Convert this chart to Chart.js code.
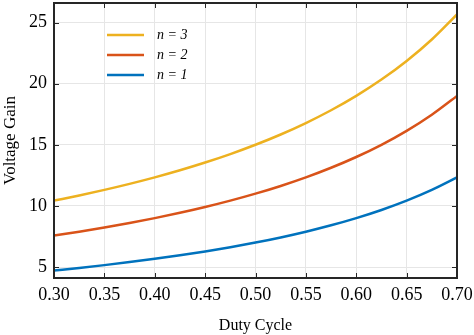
<!DOCTYPE html>
<html>
<head>
<meta charset="utf-8">
<script src="https://cdn.jsdelivr.net/npm/chart.js@4/dist/chart.umd.min.js"></script>
<style>
  html, body { margin: 0; padding: 0; background: #fff; }
  #wrap { width: 474px; height: 335px; }
</style>
</head>
<body>
<div id="wrap"><canvas id="c" width="474" height="335"></canvas></div>
<script>
// Duty cycle samples
const dutyCycle = [0.300, 0.325, 0.350, 0.375, 0.400, 0.425, 0.450, 0.475, 0.500,
                   0.525, 0.550, 0.575, 0.600, 0.625, 0.650, 0.675, 0.700];

// Voltage gain for each turns ratio
const gainN1 = [4.714, 4.926, 5.154, 5.400, 5.667, 5.957, 6.273, 6.619, 7.000,
                7.421, 7.889, 8.412, 9.000, 9.667, 10.429, 11.308, 12.333];
const gainN2 = [7.571, 7.889, 8.231, 8.600, 9.000, 9.435, 9.909, 10.429, 11.000,
                11.632, 12.333, 13.118, 14.000, 15.000, 16.143, 17.462, 19.000];
const gainN3 = [10.429, 10.852, 11.308, 11.800, 12.333, 12.913, 13.545, 14.238, 15.000,
                15.842, 16.778, 17.824, 19.000, 20.333, 21.857, 23.615, 25.667];

const seriesLabels = ['n = 3', 'n = 2', 'n = 1'];
const xTicks = [0.30, 0.35, 0.40, 0.45, 0.50, 0.55, 0.60, 0.65, 0.70];
const yTicks = [5, 10, 15, 20, 25];

const pts = ys => dutyCycle.map((d, i) => ({ x: d, y: ys[i] }));

const serif = "'Liberation Serif', 'Times New Roman', serif";
const frameColor = '#262626';

// Box frame, inward ticks on all four sides and the inset legend
const framePlugin = {
  id: 'frame',
  afterDatasetsDraw(chart) {
    const { ctx, chartArea: a, scales } = chart;
    ctx.save();
    ctx.strokeStyle = frameColor;
    ctx.lineWidth = 1;
    const tl = 5;
    ctx.beginPath();
    xTicks.forEach(v => {
      const x = Math.round(scales.x.getPixelForValue(v)) + 0.5;
      ctx.moveTo(x, a.bottom); ctx.lineTo(x, a.bottom - tl);
      ctx.moveTo(x, a.top); ctx.lineTo(x, a.top + tl);
    });
    yTicks.forEach(v => {
      const y = Math.round(scales.y.getPixelForValue(v)) + 0.5;
      ctx.moveTo(a.left, y); ctx.lineTo(a.left + tl, y);
      ctx.moveTo(a.right, y); ctx.lineTo(a.right - tl, y);
    });
    ctx.stroke();
    ctx.lineWidth = 2;
    ctx.strokeRect(a.left, a.top, a.right - a.left, a.bottom - a.top);

    // legend
    const order = [2, 1, 0];
    ctx.font = "italic 14px " + serif;
    ctx.textBaseline = 'middle';
    ctx.fillStyle = '#000';
    order.forEach((di, k) => {
      const ds = chart.data.datasets[di];
      const y = 35 + k * 20;
      ctx.strokeStyle = ds.borderColor;
      ctx.lineWidth = 2.5;
      ctx.beginPath();
      ctx.moveTo(107, y); ctx.lineTo(144, y);
      ctx.stroke();
      ctx.fillText(ds.label, 157, y);
    });
    ctx.restore();
  }
};

new Chart(document.getElementById('c'), {
  type: 'line',
  data: {
    datasets: [
      { label: seriesLabels[2], data: pts(gainN1), borderColor: '#0072BD' },
      { label: seriesLabels[1], data: pts(gainN2), borderColor: '#D95319' },
      { label: seriesLabels[0], data: pts(gainN3), borderColor: '#EDB120' }
    ]
  },
  options: {
    responsive: false,
    animation: false,
    devicePixelRatio: 1,
    layout: { padding: { top: 3, right: 17, left: 0, bottom: 0 } },
    elements: {
      line: { borderWidth: 2.5, tension: 0.4, cubicInterpolationMode: 'monotone', fill: false },
      point: { radius: 0 }
    },
    plugins: { legend: { display: false }, tooltip: { enabled: false } },
    scales: {
      x: {
        type: 'linear',
        min: 0.3, max: 0.7,
        afterBuildTicks: s => { s.ticks = xTicks.map(v => ({ value: v })); },
        afterFit: s => { s.height = 57; s.paddingLeft = 0; s.paddingRight = 0; },
        grid: { color: '#e6e6e6', drawTicks: false },
        border: { display: false },
        ticks: {
          padding: 6,
          color: '#000',
          font: { family: serif, size: 18 },
          callback: v => v.toFixed(2)
        },
        title: {
          display: true, text: 'Duty Cycle', color: '#000',
          font: { family: serif, size: 16 },
          padding: { top: 0, bottom: 0 }
        }
      },
      y: {
        min: 4.1, max: 26.6,
        afterBuildTicks: s => { s.ticks = yTicks.map(v => ({ value: v })); },
        afterFit: s => { s.width = 54; s.paddingTop = 0; s.paddingBottom = 0; },
        grid: { color: '#e6e6e6', drawTicks: false },
        border: { display: false },
        ticks: {
          padding: 7,
          color: '#000',
          font: { family: serif, size: 18 },
          callback: v => String(v)
        },
        title: {
          display: true, text: 'Voltage Gain', color: '#000',
          font: { family: serif, size: 17 },
          padding: { top: 0, bottom: 0 }
        }
      }
    }
  },
  plugins: [framePlugin]
});
</script>
</body>
</html>
